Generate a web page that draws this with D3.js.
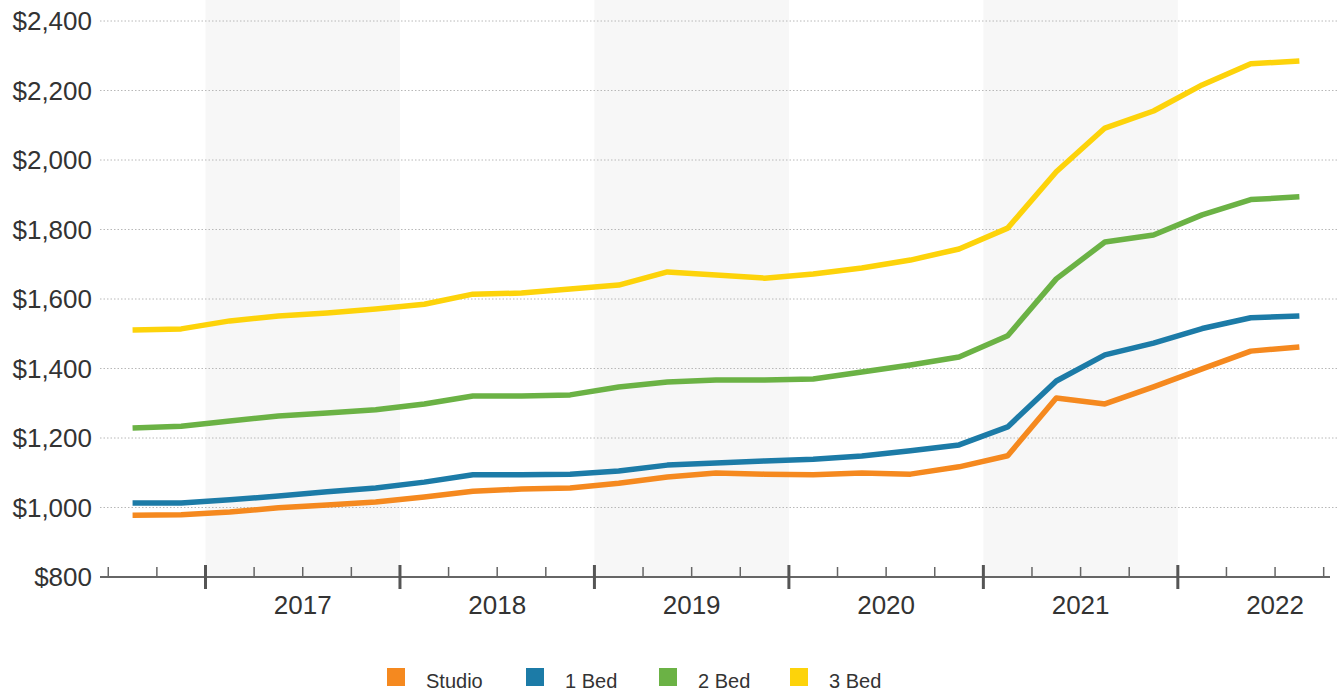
<!DOCTYPE html>
<html>
<head>
<meta charset="utf-8">
<script src="https://cdn.jsdelivr.net/npm/d3@7"></script>
<style>
  html, body { margin: 0; padding: 0; background: #fff; }
  svg { display: block; font-family: "Liberation Sans", Arial, sans-serif; }
</style>
</head>
<body>
<svg id="chart" width="1338" height="696"></svg>
<script>
// ---- data (quarterly, Q3 2016 .. Q3 2022) ----
const quarters = ["2016 Q3","2016 Q4","2017 Q1","2017 Q2","2017 Q3","2017 Q4","2018 Q1","2018 Q2","2018 Q3","2018 Q4",
  "2019 Q1","2019 Q2","2019 Q3","2019 Q4","2020 Q1","2020 Q2","2020 Q3","2020 Q4","2021 Q1","2021 Q2","2021 Q3","2021 Q4",
  "2022 Q1","2022 Q2","2022 Q3"];
const studio = [978,979,987,999,1007,1016,1030,1047,1053,1056,1070,1088,1099,1096,1094,1099,1096,1117,1149,1315,1298,1347,1399,1450,1462];
const oneBed = [1013,1013,1022,1033,1045,1056,1073,1094,1094,1096,1105,1122,1128,1134,1139,1148,1163,1180,1232,1364,1439,1473,1515,1546,1551];
const twoBed = [1229,1234,1249,1263,1272,1281,1298,1321,1321,1324,1347,1361,1367,1367,1370,1390,1410,1433,1494,1658,1764,1784,1842,1886,1894];
const threeBed = [1511,1514,1537,1551,1560,1571,1585,1614,1617,1629,1640,1678,1669,1660,1672,1689,1712,1744,1804,1966,2092,2141,2216,2277,2285];
const seriesNames = ["Studio","1 Bed","2 Bed","3 Bed"];
const seriesColors = ["#f5891f","#1c7ba7","#6bb245","#fdd30a"];
const yTicks = [800,1000,1200,1400,1600,1800,2000,2200,2400];
const yearLabels = ["2017","2018","2019","2020","2021","2022"];
const shadedYears = ["2017","2019","2021"];

const svg = d3.select("#chart");

// quarter -> continuous time in quarter units since Jan 2016 (mid-quarter)
function qt(s) { const [yr, q] = s.split(" Q"); return (+yr - 2016) * 4 + (+q - 1) + 0.5; }

const x = d3.scaleLinear().domain([1.83, 27.13]).range([100, 1330]);
const y = d3.scaleLinear().domain([800, 2400]).range([577, 21]);

// shaded year bands
svg.append("g").selectAll("rect").data(shadedYears).join("rect")
  .attr("x", d => x((+d - 2016) * 4))
  .attr("width", d => x((+d - 2016) * 4 + 4) - x((+d - 2016) * 4))
  .attr("y", 0).attr("height", y(800))
  .attr("fill", "#f7f7f7");

// gridlines
svg.append("g").selectAll("line").data(yTicks.filter(v => v > 800)).join("line")
  .attr("x1", 100).attr("x2", 1337)
  .attr("y1", d => y(d)).attr("y2", d => y(d))
  .attr("stroke", "#b8b8b8").attr("stroke-width", 1)
  .attr("stroke-dasharray", "1.5,2");

// y labels
svg.append("g").selectAll("text").data(yTicks).join("text")
  .attr("x", 92).attr("y", d => y(d)).attr("dy", "0.35em")
  .attr("text-anchor", "end")
  .attr("font-size", 26).attr("fill", "#333")
  .text(d => d3.format("$,")(d));

// x axis
const axisY = y(800);
const ax = svg.append("g");
ax.append("line").attr("x1", 100).attr("x2", 1330).attr("y1", axisY).attr("y2", axisY)
  .attr("stroke", "#666").attr("stroke-width", 2);
const minorT = d3.range(2, 28).filter(t => t % 4 !== 0);
const majorT = yearLabels.map(d => (+d - 2016) * 4);
ax.selectAll(".minor").data(minorT).join("line").attr("class", "minor")
  .attr("x1", d => x(d)).attr("x2", d => x(d))
  .attr("y1", axisY - 10).attr("y2", axisY)
  .attr("stroke", "#666").attr("stroke-width", 1.5);
ax.selectAll(".major").data(majorT).join("line").attr("class", "major")
  .attr("x1", d => x(d)).attr("x2", d => x(d))
  .attr("y1", axisY - 12).attr("y2", axisY + 12)
  .attr("stroke", "#555").attr("stroke-width", 3);
ax.selectAll("text").data(yearLabels).join("text")
  .attr("x", d => x((+d - 2016) * 4 + 2)).attr("y", 614)
  .attr("text-anchor", "middle").attr("font-size", 26).attr("fill", "#333")
  .text(d => d);

// lines
const allSeries = [studio, oneBed, twoBed, threeBed];
const line = d3.line().x((d, i) => x(qt(quarters[i]))).y(d => y(d));
svg.append("g").selectAll("path").data(allSeries).join("path")
  .attr("d", d => line(d))
  .attr("fill", "none")
  .attr("stroke", (d, i) => seriesColors[i])
  .attr("stroke-width", 5.5)
  .attr("stroke-linejoin", "round");

// legend
const legendX = [387, 526, 659, 790];
const lg = svg.append("g").selectAll("g").data(seriesNames).join("g")
  .attr("transform", (d, i) => `translate(${legendX[i]},668)`);
lg.append("rect").attr("width", 18).attr("height", 18).attr("fill", (d, i) => seriesColors[i]);
lg.append("text").attr("x", 39).attr("y", 13).attr("dy", "0.36em")
  .attr("font-size", 20).attr("fill", "#333").text(d => d);
</script>
</body>
</html>
